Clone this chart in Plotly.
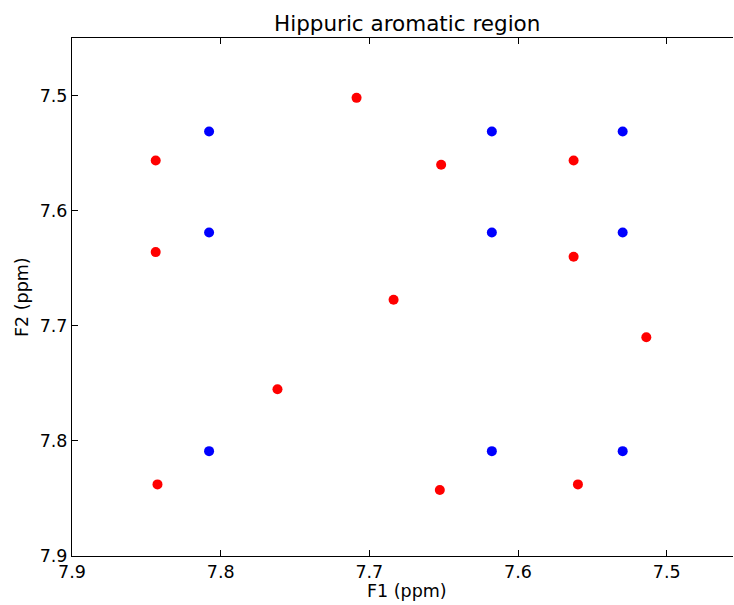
import plotly.graph_objects as go

# Blue peaks (F1, F2 in ppm)
blue_f1 = [7.8078, 7.8078, 7.8078, 7.6176, 7.6176, 7.6176, 7.5296, 7.5296, 7.5296]
blue_f2 = [7.5312, 7.6189, 7.8089, 7.5312, 7.6189, 7.8089, 7.5312, 7.6189, 7.8089]

# Red peaks (F1, F2 in ppm)
red_f1 = [7.8437, 7.8437, 7.8425, 7.7086, 7.6517, 7.5626, 7.5626, 7.6837,
          7.7618, 7.5137, 7.6526, 7.5597]
red_f2 = [7.5564, 7.6360, 7.8378, 7.5020, 7.5601, 7.5564, 7.6400, 7.6774,
          7.7551, 7.7100, 7.8427, 7.8378]

x_ticks = [7.9, 7.8, 7.7, 7.6, 7.5]
y_ticks = [7.5, 7.6, 7.7, 7.8, 7.9]

FONT = "DejaVu Sans"

fig = go.Figure()
fig.add_trace(go.Scatter(x=blue_f1, y=blue_f2, mode="markers",
                         marker=dict(color="#0000ff", size=10, line=dict(width=0)),
                         showlegend=False))
fig.add_trace(go.Scatter(x=red_f1, y=red_f2, mode="markers",
                         marker=dict(color="#ff0000", size=10, line=dict(width=0)),
                         showlegend=False))

fig.update_layout(
    width=734, height=605,
    margin=dict(l=72, r=1, t=38, b=49),
    paper_bgcolor="white", plot_bgcolor="white",
    font=dict(family=FONT, size=17, color="black"),
    xaxis=dict(range=[7.9, 7.4554], tickvals=x_ticks, ticktext=[f"{v:.1f}" for v in x_ticks],
               showgrid=False, zeroline=False, showline=True, linecolor="black", linewidth=1,
               mirror="ticks", ticks="inside", ticklen=6, tickwidth=1, tickcolor="black",
               tickfont=dict(family=FONT, size=17.5, color="black")),
    yaxis=dict(range=[7.9, 7.45], tickvals=y_ticks, ticktext=[f"{v:.1f}" for v in y_ticks],
               showgrid=False, zeroline=False, showline=True, linecolor="black", linewidth=1,
               mirror=False, ticks="inside", ticklen=6, tickwidth=1, tickcolor="black",
               tickfont=dict(family=FONT, size=17.5, color="black")),
    annotations=[
        dict(text="Hippuric aromatic region", x=7.675, xref="x", y=1, yref="paper",
             xanchor="center", yanchor="bottom", showarrow=False,
             font=dict(family=FONT, size=21.5, color="black")),
        dict(text="F1 (ppm)", x=7.675, xref="x", y=0, yref="paper",
             xanchor="center", yanchor="top", yshift=-23, showarrow=False,
             font=dict(family=FONT, size=17.5, color="black")),
        dict(text="F2 (ppm)", x=0, xref="paper", y=0.5, yref="paper",
             xanchor="center", yanchor="middle", xshift=-50, textangle=-90, showarrow=False,
             font=dict(family=FONT, size=17.5, color="black")),
    ],
)

fig.write_html(
    "out.html",
    config={"displayModeBar": False},
    post_script="document.body.style.margin='0';document.body.style.overflow='hidden';",
)
